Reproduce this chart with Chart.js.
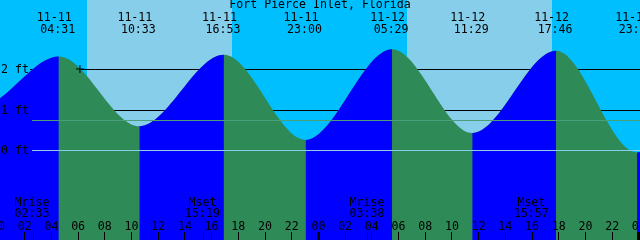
<!DOCTYPE html>
<html>
<head>
<meta charset="utf-8">
<style>
  html, body { margin: 0; padding: 0; background: #00bfff; }
  canvas { display: block; }
</style>
<script src="https://cdn.jsdelivr.net/npm/chart.js@4.4.1/dist/chart.umd.min.js"></script>
</head>
<body>
<canvas id="tide" width="640" height="240"></canvas>
<script>
const title = "Fort Pierce Inlet, Florida";

// high / low tides
const eventDates = ["11-11", "11-11", "11-11", "11-11", "11-12", "11-12", "11-12", "11-12"];
const eventTimes = ["04:31", "10:33", "16:53", "23:00", "05:29", "11:29", "17:46", "23:50"];
const eventFeet = [2.31, 0.585, 2.35, 0.25, 2.49, 0.42, 2.45, -0.06];

// water level at the left and right edges of the picture
const edgeHours = [0.11, 48.6];
const edgeFeet = [1.28, 0.0];

// sun and moon
const sunriseTimes = ["11-11 06:39", "11-12 06:37"];
const sunsetTimes = ["11-11 17:28", "11-12 17:26"];
const moonNames = ["Mrise", "Mset", "Mrise", "Mset"];
const moonDates = ["11-11", "11-11", "11-12", "11-12"];
const moonTimes = ["02:33", "15:19", "03:38", "15:57"];

// axis labels
const hourLabels = ["00", "02", "04", "06", "08", "10", "12", "14", "16", "18", "20", "22",
                    "00", "02", "04", "06", "08", "10", "12", "14", "16", "18", "20", "22", "00"];
const footLabels = ["2 ft", "1 ft", "0 ft"];
const footValues = [2, 1, 0];
const meanLevel = 0.73;
const markHour = 6.1;
const markFeet = 2.0;

const NIGHT = "#00bfff";
const DAY = "#87ceeb";
const RISE = "#0000ff";
const FALL = "#2e8b57";
const FONT = '11.6px "DejaVu Sans Mono", monospace';

// hours since 11-11 00:00
function toHours(date, time) {
  if (time === undefined) [date, time] = date.split(" ");
  const day = parseInt(date.split("-")[1], 10) - 11;
  const [h, m] = time.split(":").map(Number);
  return day * 24 + h + m / 60;
}

const tidePoints = [{ x: edgeHours[0], y: edgeFeet[0] }];
eventTimes.forEach((t, i) => tidePoints.push({ x: toHours(eventDates[i], t), y: eventFeet[i] }));
tidePoints.push({ x: edgeHours[1], y: edgeFeet[1] });

const decor = {
  id: "tideDecor",
  beforeDatasetsDraw(chart) {
    const { ctx, width, height } = chart;
    const { x, y } = chart.scales;
    ctx.save();
    ctx.fillStyle = NIGHT;
    ctx.fillRect(0, 0, width, height);
    ctx.fillStyle = DAY;
    sunriseTimes.forEach((r, i) => {
      const x0 = Math.round(x.getPixelForValue(toHours(r)));
      const x1 = Math.round(x.getPixelForValue(toHours(sunsetTimes[i])));
      ctx.fillRect(x0, 0, x1 - x0, height);
    });
    // black level lines sit behind the water
    ctx.strokeStyle = "#000";
    ctx.lineWidth = 1;
    [2, 1].forEach((f) => {
      const py = Math.round(y.getPixelForValue(f)) + 0.5;
      ctx.beginPath();
      ctx.moveTo(30, py);
      ctx.lineTo(width, py);
      ctx.stroke();
    });
    ctx.restore();
  },
  afterDatasetsDraw(chart) {
    const { ctx, width } = chart;
    const { x, y } = chart.scales;
    ctx.save();

    // mean level and datum lines on top
    [[meanLevel, "#4a9f78"], [0, "#87ceeb"]].forEach(([f, c]) => {
      const py = Math.round(y.getPixelForValue(f)) + 0.5;
      ctx.strokeStyle = c;
      ctx.beginPath();
      ctx.moveTo(32, py);
      ctx.lineTo(width, py);
      ctx.stroke();
    });

    ctx.fillStyle = "#000";
    ctx.font = FONT;
    ctx.textBaseline = "middle";
    ctx.textAlign = "center";
    ctx.fillText(title, 320, 5);

    eventTimes.forEach((t, i) => {
      const px = x.getPixelForValue(toHours(eventDates[i], t));
      ctx.fillText(eventDates[i], px - 4.5, 18);
      ctx.fillText(t, px - 1, 30);
    });

    moonNames.forEach((n, i) => {
      const px = x.getPixelForValue(toHours(moonDates[i], moonTimes[i]));
      ctx.fillText(n, px - 0.5, 203);
      ctx.fillText(moonTimes[i], px - 0.5, 214);
      ctx.fillRect(Math.round(px), 232, 1, 8);
    });

    hourLabels.forEach((lab, i) => {
      const px = x.getPixelForValue(i * 2);
      ctx.fillText(lab, px - 0.5, 227);
      if (i % 12 === 0) ctx.fillRect(Math.round(px) - 2, 232, 3, 8);
      else ctx.fillRect(Math.round(px) - 1, 232, 1, 8);
    });

    ctx.textAlign = "left";
    footLabels.forEach((lab, i) => {
      ctx.fillText(lab, 1, Math.round(y.getPixelForValue(footValues[i])) + 0.5);
    });
    ctx.restore();
  }
};

new Chart(document.getElementById("tide"), {
  type: "line",
  data: {
    datasets: [
      {
        data: [{ x: markHour, y: markFeet }],
        showLine: false,
        pointStyle: "cross",
        pointRadius: 4,
        borderColor: "#000",
        borderWidth: 1,
        order: 0
      },
      {
        // rising water, painted over the falling colour
        data: tidePoints,
        fill: "start",
        cubicInterpolationMode: "monotone",
        pointRadius: 0,
        borderWidth: 0,
        borderColor: "rgba(0,0,0,0)",
        backgroundColor: RISE,
        segment: {
          backgroundColor: (c) => (c.p1.parsed.y >= c.p0.parsed.y ? RISE : "rgba(0,0,0,0)")
        },
        order: 1
      },
      {
        data: tidePoints,
        fill: "start",
        cubicInterpolationMode: "monotone",
        pointRadius: 0,
        borderWidth: 0,
        borderColor: "rgba(0,0,0,0)",
        backgroundColor: FALL,
        order: 2
      }
    ]
  },
  options: {
    responsive: false,
    animation: false,
    events: [],
    layout: { padding: 0, autoPadding: false },
    plugins: { legend: { display: false }, tooltip: { enabled: false } },
    scales: {
      x: { type: "linear", min: 0.112, max: 48.05, display: false },
      y: { min: -2.222, max: 3.704, display: false }
    }
  },
  plugins: [decor]
});
</script>
</body>
</html>
